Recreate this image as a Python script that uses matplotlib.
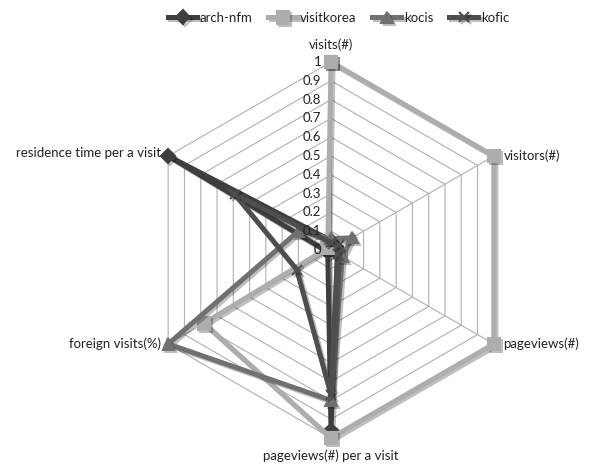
import numpy as np
import matplotlib
matplotlib.use('Agg')
import matplotlib.pyplot as plt
import matplotlib.patheffects as pe

plt.rcParams['font.family'] = ['Lato', 'DejaVu Sans']

categories = ['visits(#)', 'visitors(#)', 'pageviews(#)', 'pageviews(#) per a visit',
              'foreign visits(%)', 'residence time per a visit']
arch_nfm = [0.05, 0.03, 0.04, 0.96, 0.02, 1.0]
visitkorea = [1.0, 1.0, 1.0, 1.0, 0.78, 0.02]
kocis = [0.06, 0.13, 0.07, 0.80, 1.0, 0.20]
kofic = [0.04, 0.05, 0.04, 0.77, 0.21, 0.59]
levels = np.arange(0, 1.01, 0.1)

n = len(categories)
theta = np.arange(n) * 2 * np.pi / n
theta_c = np.append(theta, theta[0])

fig = plt.figure(figsize=(5.89, 4.68), dpi=100)
cx, cy, rad = 331 / 589, 1 - 250 / 468, 188
ax = fig.add_axes([cx - rad / 589, cy - rad / 468, 2 * rad / 589, 2 * rad / 468],
                  projection='polar')
ax.set_theta_zero_location('N')
ax.set_theta_direction(-1)
ax.set_ylim(0, 1)
ax.grid(False)
ax.set_xticks([])
ax.set_yticks([])
ax.spines['polar'].set_visible(False)
ax.patch.set_visible(False)

# hexagonal grid and spokes
for lv in levels[1:]:
    ax.plot(theta_c, [lv] * (n + 1), color='#b0b0b0', lw=0.8, zorder=1, clip_on=False)
for t in theta:
    ax.plot([t, t], [0, 1], color='#b0b0b0', lw=0.8, zorder=1, clip_on=False)

# radial value labels along the top spoke
for lv in levels:
    ax.annotate('%g' % round(lv, 1), xy=(0, lv), xytext=(-7, 0), textcoords='offset points',
                ha='right', va='center', fontsize=9.5, color='#222222', zorder=10)

series = [
    ('arch-nfm', arch_nfm, '#3e3e3e', 'D', 7),
    ('visitkorea', visitkorea, '#adadad', 's', 9),
    ('kocis', kocis, '#707070', '^', 8),
    ('kofic', kofic, '#4e4e4e', 'x', 7),
]
shadow = [pe.SimpleLineShadow(offset=(1.5, -1.5), alpha=0.25, shadow_color='k'), pe.Normal()]
for i, (name, vals, col, mk, ms) in enumerate(series):
    v = np.append(vals, vals[0])
    ax.plot(theta_c, v, color=col, lw=3.6, marker=mk, markersize=ms, mec=col, mew=1.5,
            label=name, zorder=3 + i, clip_on=False, path_effects=shadow,
            solid_joinstyle='miter')

# category labels at hexagon vertices
lab = dict(fontsize=9.5, color='#222222')
ax.annotate(categories[0], xy=(theta[0], 1), xytext=(0, 8), textcoords='offset points',
            ha='center', va='bottom', **lab)
ax.annotate(categories[1], xy=(theta[1], 1), xytext=(7, 0), textcoords='offset points',
            ha='left', va='center', **lab)
ax.annotate(categories[2], xy=(theta[2], 1), xytext=(7, 0), textcoords='offset points',
            ha='left', va='center', **lab)
ax.annotate(categories[3], xy=(theta[3], 1), xytext=(0, -8), textcoords='offset points',
            ha='center', va='top', **lab)
ax.annotate(categories[4], xy=(theta[4], 1), xytext=(-5, 0), textcoords='offset points',
            ha='right', va='center', **lab)
ax.annotate(categories[5], xy=(theta[5], 1), xytext=(-5, 2), textcoords='offset points',
            ha='right', va='center', **lab)

fig.legend(loc='upper center', bbox_to_anchor=(0.575, 1.0), ncol=4, frameon=False,
           fontsize=9.5, handlelength=2.2, columnspacing=1.2, handletextpad=0.2,
           labelcolor='#222222')

fig.savefig('out.png', dpi=100)
